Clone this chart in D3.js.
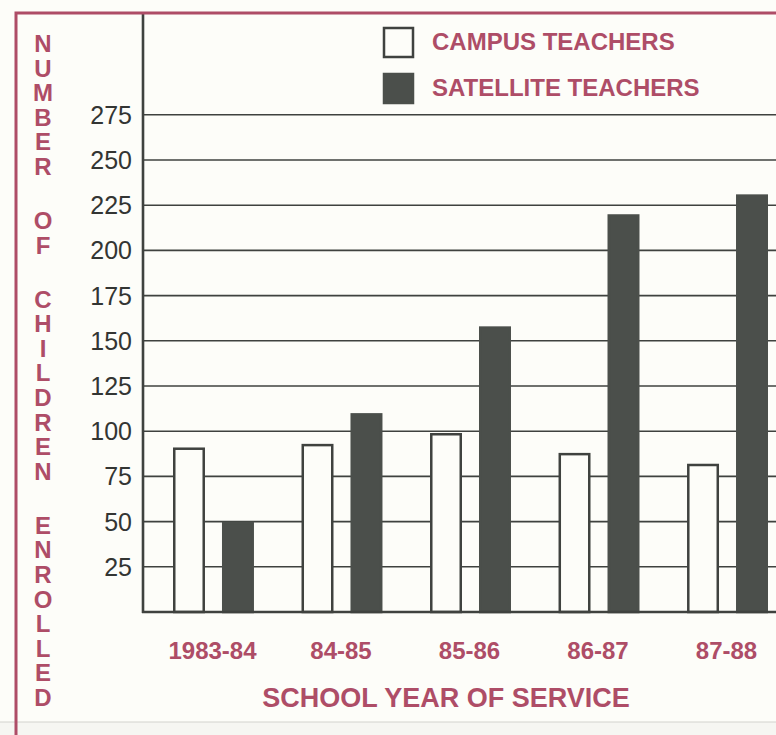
<!DOCTYPE html>
<html>
<head>
<meta charset="utf-8">
<script src="https://cdn.jsdelivr.net/npm/d3@7"></script>
<style>
  html, body { margin: 0; padding: 0; background: #fdfdf9; }
  svg { display: block; }
</style>
</head>
<body>
<div id="chart"></div>
<script>
// values
const years = ['1983-84', '84-85', '85-86', '86-87', '87-88']
const campusTeachers = [91, 93, 99, 88, 82]
const satelliteTeachers = [50, 110, 158, 220, 231]
const seriesNames = ['CAMPUS TEACHERS', 'SATELLITE TEACHERS']
const yTicks = [25, 50, 75, 100, 125, 150, 175, 200, 225, 250, 275]
const yTitle = 'NUMBER OF CHILDREN ENROLLED'
const xTitle = 'SCHOOL YEAR OF SERVICE'

const width = 776
const height = 735
const red = '#ae4d67'
const ink = '#3f423f'
const darkFill = '#4b4f4b'
const strokeW = 2.5

const svg = d3.select('#chart')
  .append('svg')
  .attr('width', width)
  .attr('height', height)

// page background, with the slightly greyer strip under the sheet edge
svg.append('rect').attr('width', width).attr('height', height).attr('fill', '#fdfdf9')
svg.append('rect').attr('y', 722).attr('width', width).attr('height', height - 722).attr('fill', '#f6f6f2')
svg.append('line')
  .attr('x1', 0).attr('x2', width).attr('y1', 722).attr('y2', 722)
  .attr('stroke', '#d2d2cd').attr('stroke-width', 1)

const plotLeft = 143
const plotBottom = 612

const y = d3.scaleLinear().domain([0, 275]).range([plotBottom, 114.8])

const x0 = d3.scaleBand()
  .domain(years)
  .range([173, 768])
  .paddingInner(0.37)
  .paddingOuter(0)
  .align(0)

const x1 = d3.scaleBand()
  .domain(['campus', 'satellite'])
  .range([0, x0.bandwidth()])
  .paddingInner(0.347)
  .paddingOuter(0)

const rows = years.map((yr, i) => ({
  year: yr,
  values: [
    { key: 'campus', value: campusTeachers[i] },
    { key: 'satellite', value: satelliteTeachers[i] }
  ]
}))

// gridlines
svg.append('g')
  .selectAll('line')
  .data(yTicks)
  .enter()
  .append('line')
  .attr('x1', plotLeft)
  .attr('x2', width)
  .attr('y1', d => y(d))
  .attr('y2', d => y(d))
  .attr('stroke', ink)
  .attr('stroke-width', 1.6)

// tick labels
svg.append('g')
  .selectAll('text')
  .data(yTicks)
  .enter()
  .append('text')
  .attr('x', 132)
  .attr('y', d => y(d))
  .attr('dy', '0.36em')
  .attr('text-anchor', 'end')
  .attr('font-family', 'Liberation Sans, Arial, sans-serif')
  .attr('font-size', 25)
  .attr('fill', '#333533')
  .text(d => d)

// bars
const groups = svg.append('g')
  .selectAll('g')
  .data(rows)
  .enter()
  .append('g')
  .attr('transform', d => `translate(${x0(d.year)},0)`)

groups.selectAll('rect')
  .data(d => d.values)
  .enter()
  .append('rect')
  .attr('x', d => x1(d.key) + strokeW / 2)
  .attr('width', x1.bandwidth() - strokeW)
  .attr('y', d => y(d.value) + strokeW / 2)
  .attr('height', d => plotBottom - y(d.value) - strokeW / 2)
  .attr('fill', d => d.key === 'campus' ? '#fdfdf9' : darkFill)
  .attr('stroke', d => d.key === 'campus' ? ink : darkFill)
  .attr('stroke-width', strokeW)

// axes frame
svg.append('line')
  .attr('x1', plotLeft).attr('x2', plotLeft)
  .attr('y1', 13).attr('y2', plotBottom + 1)
  .attr('stroke', ink).attr('stroke-width', 2.6)
svg.append('line')
  .attr('x1', plotLeft - 1).attr('x2', width)
  .attr('y1', plotBottom).attr('y2', plotBottom)
  .attr('stroke', ink).attr('stroke-width', 2.6)

// red border of the figure
svg.append('path')
  .attr('d', `M16,${height} V13 H${width}`)
  .attr('fill', 'none')
  .attr('stroke', red)
  .attr('stroke-width', 3)

// category labels
svg.append('g')
  .selectAll('text')
  .data(years)
  .enter()
  .append('text')
  .attr('x', d => x0(d) + x0.bandwidth() / 2 - 1)
  .attr('y', 659)
  .attr('text-anchor', 'middle')
  .attr('font-family', 'Liberation Sans, Arial, sans-serif')
  .attr('font-weight', 'bold')
  .attr('font-size', 24)
  .attr('fill', red)
  .text(d => d)

svg.append('text')
  .attr('x', 446)
  .attr('y', 707)
  .attr('text-anchor', 'middle')
  .attr('font-family', 'Liberation Sans, Arial, sans-serif')
  .attr('font-weight', 'bold')
  .attr('font-size', 27)
  .attr('fill', red)
  .text(xTitle)

// vertical title, one letter per line
const letterStep = 24.6
const spaceStep = 54
let cy = 52
const letters = []
yTitle.split('').forEach(ch => {
  if (ch === ' ') {
    cy += spaceStep - letterStep
    return
  }
  letters.push({ ch: ch, y: cy })
  cy += letterStep
})

svg.append('g')
  .selectAll('text')
  .data(letters)
  .enter()
  .append('text')
  .attr('x', 43)
  .attr('y', d => d.y)
  .attr('text-anchor', 'middle')
  .attr('font-family', 'Liberation Sans, Arial, sans-serif')
  .attr('font-weight', 'bold')
  .attr('font-size', 24)
  .attr('fill', red)
  .text(d => d.ch)

// legend
const legend = svg.append('g')
  .selectAll('g')
  .data(seriesNames)
  .enter()
  .append('g')
  .attr('transform', (d, i) => `translate(384,${28 + i * 46})`)

legend.append('rect')
  .attr('width', 29)
  .attr('height', 29)
  .attr('fill', (d, i) => i === 0 ? '#fdfdf9' : darkFill)
  .attr('stroke', (d, i) => i === 0 ? ink : darkFill)
  .attr('stroke-width', strokeW)

legend.append('text')
  .attr('x', 48)
  .attr('y', 22)
  .attr('font-family', 'Liberation Sans, Arial, sans-serif')
  .attr('font-weight', 'bold')
  .attr('font-size', 24)
  .attr('fill', red)
  .text(d => d)
</script>
</body>
</html>
